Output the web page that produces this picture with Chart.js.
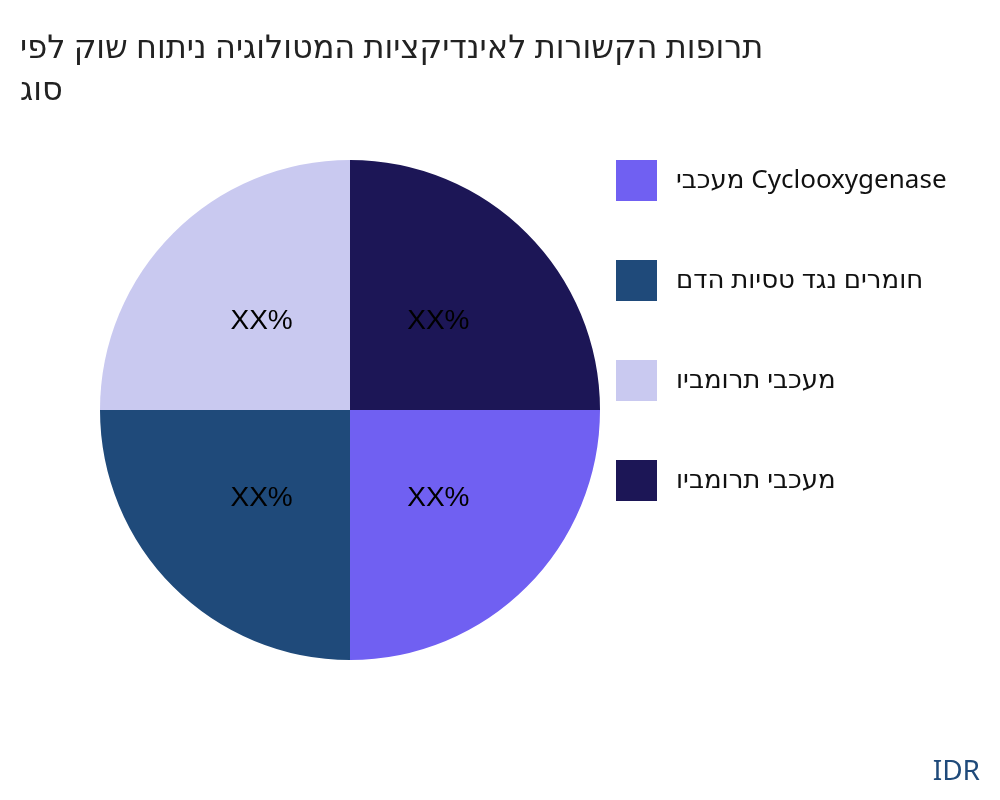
<!DOCTYPE html>
<html>
<head>
<meta charset="utf-8">
<script src="https://cdn.jsdelivr.net/npm/chart.js@4"></script>
<style>
  body { margin: 0; background: #fff; }
  #wrap { width: 1000px; height: 800px; position: relative; }
</style>
</head>
<body>
<div id="wrap"><canvas id="pie" width="1000" height="800"></canvas></div>
<script>
// --- DATA ---
const LRO = '\u202D'; // keep glyph order as drawn in the reference
const titleLines = ['יפל קוש חותינ היגולוטמה תויצקידניאל תורושקה תופורת', 'גוס'];
const categories = ['יבכעמ Cyclooxygenase', 'םדה תויסט דגנ םירמוח', 'ויבמורת יבכעמ', 'ויבמורת יבכעמ'];
const values = [25, 25, 25, 25];
const sliceLabels = ['XX%', 'XX%', 'XX%', 'XX%'];
const colors = ['#7060f2', '#1f4a7a', '#c9c9f0', '#1c1656'];

const FONT = '"Noto Sans", "DejaVu Sans", sans-serif';

// draws title, slice labels, legend and the source tag
const decorations = {
    id: 'decorations',
    afterDraw(chart) {
        const c = chart.ctx;
        c.save();
        c.direction = 'ltr';
        c.textBaseline = 'alphabetic';
        c.textAlign = 'left';
        c.fillStyle = '#222';
        c.font = '32px ' + FONT;
        c.fillText(LRO + titleLines[0], 20, 58);
        c.fillText(LRO + titleLines[1], 20, 100);

        // slice labels
        const arcs = chart.getDatasetMeta(0).data;
        c.font = '28px "Liberation Sans", Arial, sans-serif';
        c.fillStyle = '#000';
        c.textAlign = 'center';
        c.textBaseline = 'middle';
        arcs.forEach((arc, i) => {
            const p = arc.tooltipPosition();
            c.fillText(sliceLabels[i], p.x, p.y);
        });

        // legend
        c.textAlign = 'left';
        c.font = '26px ' + FONT;
        categories.forEach((name, i) => {
            const y = 160 + i * 100;
            c.fillStyle = colors[i];
            c.fillRect(616, y, 41, 41);
            c.fillStyle = '#111';
            c.fillText(LRO + name, 676, y + 21);
        });

        c.textAlign = 'right';
        c.textBaseline = 'alphabetic';
        c.font = '28px ' + FONT;
        c.fillStyle = '#1f4a7a';
        c.fillText('IDR', 980, 780);
        c.restore();
    }
};

new Chart(document.getElementById('pie').getContext('2d'), {
    type: 'pie',
    data: {
        labels: categories,
        datasets: [{
            data: values,
            backgroundColor: colors,
            borderWidth: 0
        }]
    },
    options: {
        responsive: false,
        animation: false,
        rotation: 90,
        layout: { padding: { left: 100, right: 400, top: 160, bottom: 140 } },
        plugins: {
            legend: { display: false },
            title: { display: false },
            tooltip: { enabled: false }
        }
    },
    plugins: [decorations]
});
</script>
</body>
</html>
